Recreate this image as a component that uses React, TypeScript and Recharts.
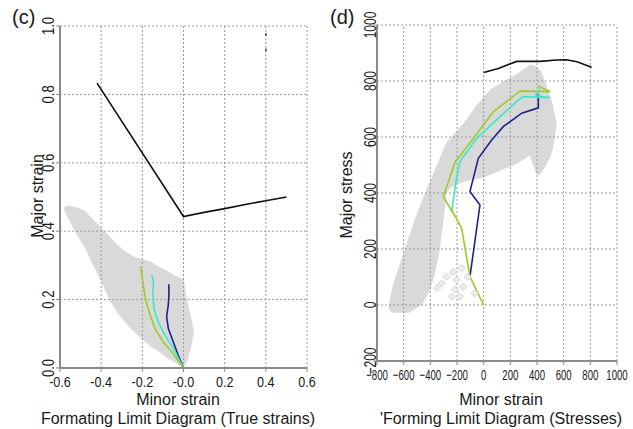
import {
  ComposedChart,
  Area,
  Line,
  Scatter,
  XAxis,
  YAxis,
  ReferenceLine,
} from "recharts";

// panel (c): true strains
const strainXTicks = [-0.6, -0.4, -0.2, 0, 0.2, 0.4, 0.6];
const strainYTicks = [0, 0.2, 0.4, 0.6, 0.8, 1.0];
const strainCloudX = [-0.58, -0.56, -0.52, -0.48, -0.44, -0.4, -0.36, -0.32, -0.28, -0.24, -0.2, -0.16, -0.12, -0.08, -0.04, 0, 0.02, 0.04, 0.05];
const strainCloudLow = [0.46, 0.437, 0.392, 0.352, 0.302, 0.254, 0.199, 0.161, 0.131, 0.105, 0.083, 0.063, 0.048, 0.03, 0.015, 0, 0.022, 0.07, 0.1];
const strainCloudHigh = [0.47, 0.475, 0.47, 0.46, 0.435, 0.41, 0.385, 0.36, 0.34, 0.325, 0.318, 0.312, 0.296, 0.284, 0.27, 0.26, 0.19, 0.14, 0.11];
const strainLimit: [number, number][] = [[-0.42, 0.833], [0, 0.443], [0.1, 0.455], [0.2, 0.466], [0.3, 0.478], [0.4, 0.489], [0.5, 0.5]];
const strainMarks: [number, number][] = [[0.4, 0.975], [0.4, 0.93]];
const strainGreen: [number, number][] = [[-0.208, 0.296], [-0.2, 0.262], [-0.188, 0.213], [-0.168, 0.165], [-0.139, 0.116], [-0.099, 0.077], [-0.058, 0.048], [0, 0]];
const strainCyan: [number, number][] = [[-0.154, 0.272], [-0.146, 0.252], [-0.149, 0.223], [-0.144, 0.175], [-0.123, 0.135], [-0.09, 0.096], [-0.05, 0.058], [0, 0]];
const strainNavy: [number, number][] = [[-0.071, 0.245], [-0.071, 0.213], [-0.074, 0.184], [-0.082, 0.15], [-0.074, 0.116], [-0.05, 0.077], [-0.026, 0.038], [0, 0]];

// panel (d): stresses
const stressXTicks = [-800, -600, -400, -200, 0, 200, 400, 600, 800, 1000];
const stressYTicks = [-200, 0, 200, 400, 600, 800, 1000];
const stressCloudX = [-715, -690, -650, -600, -560, -500, -465, -440, -400, -365, -330, -300, -278, -250, -200, -150, -100, -50, 0, 50, 100, 150, 200, 250, 300, 347, 375, 400, 430, 470, 500, 520, 547];
const stressCloudLow = [-10, -28, -28, -28, -28, -10, 0, 19, 54, 113, 195, 306, 400, 418, 430, 440, 445, 450, 455, 465, 475, 485, 495, 505, 520, 536, 490, 464, 470, 500, 530, 560, 640];
const stressCloudHigh = [-10, 54, 118, 186, 246, 326, 369, 400, 445, 484, 523, 556, 580, 595, 622, 650, 683, 715, 743, 770, 785, 800, 813, 825, 843, 859, 855, 850, 835, 784, 745, 712, 650];
const stressOutliers: [number, number][] = [[-228, 119], [-165, 131], [-203, 89], [-278, 101], [-315, 77], [-215, 54], [-153, 65], [-178, 30], [-240, 30], [-67, 42], [-120, 100], [-350, 60]];
const stressLimit: [number, number][] = [[0, 830], [110, 845], [248, 870], [422, 870], [548, 875], [620, 876], [700, 869], [810, 849]];
const stressGreen: [number, number][] = [[0, 0], [-103, 101], [-165, 274], [-215, 318], [-303, 387], [-215, 510], [-78, 595], [72, 690], [272, 764], [500, 762], [405, 782]];
const stressCyan: [number, number][] = [[-240, 333], [-205, 450], [-178, 512], [-53, 595], [122, 672], [247, 726], [297, 744], [497, 740], [397, 748], [422, 773]];
const stressNavy: [number, number][] = [[-103, 101], [-28, 357], [-103, 405], [-40, 524], [60, 589], [147, 637], [285, 685], [410, 704], [410, 750], [390, 752]];

const FONT = "'Liberation Sans', Arial, sans-serif";
const INK = "#1a1a1a";
const AXIS = "#8a8a8a";
const GRID = "#9a9a9a";
const CLOUD = "#d9d9d9";
const GREEN = "#9acd2a";
const CYAN = "#3ce8c4";
const NAVY = "#1e2290";

const pts = (arr: [number, number][]) => arr.map(([x, y]) => ({ x, y }));
const band = (xs: number[], lo: number[], hi: number[]) =>
  xs.map((x, i) => ({ x, band: [lo[i], hi[i]] }));

// tick labels are horizontally squeezed in the original figure
const XTick = ({ x, y, payload, sx, fmt }: any) => (
  <g transform={`translate(${x},${y + 13})`}>
    <text transform={`scale(${sx},1)`} textAnchor="middle" fontSize={15} fontFamily={FONT} fill={INK}>
      {fmt(payload.value)}
    </text>
  </g>
);

const YTick = ({ x, y, payload, sx, dx, fmt }: any) => (
  <g transform={`translate(${x + dx},${y}) rotate(-90)`}>
    <text transform={`scale(${sx},1)`} textAnchor="middle" fontSize={16} fontFamily={FONT} fill={INK}>
      {fmt(payload.value)}
    </text>
  </g>
);

const Diamond = ({ cx, cy }: any) => (
  <polygon
    points={`${cx},${cy - 3.5} ${cx + 3.5},${cy} ${cx},${cy + 3.5} ${cx - 3.5},${cy}`}
    fill="#ececec"
    stroke="#d2d2d2"
  />
);

const Tick = ({ cx, cy }: any) => <rect x={cx - 0.5} y={cy - 1.5} width={1.2} height={3} fill="#222" />;

const fmtStrainX = (v: number) => (v === 0 ? "-0.0" : v.toFixed(1));
const fmtStrainY = (v: number) => v.toFixed(1);
const fmtStress = (v: number) => (v < 0 ? `\u2212${-v}` : String(v));

const gridLines = (xs: number[], ys: number[]) => [
  ...xs.map((v) => (
    <ReferenceLine key={`gx${v}`} x={v} stroke={GRID} strokeDasharray="2 2" />
  )),
  ...ys.map((v) => (
    <ReferenceLine key={`gy${v}`} y={v} stroke={GRID} strokeDasharray="2 2" />
  )),
];

function StrainChart() {
  return (
    <ComposedChart
      width={320}
      height={429}
      data={band(strainCloudX, strainCloudLow, strainCloudHigh)}
      margin={{ top: 26, right: 13, bottom: 31, left: 30 }}
    >
      <XAxis
        type="number"
        dataKey="x"
        domain={[-0.6, 0.6]}
        ticks={strainXTicks}
        interval={0}
        allowDataOverflow
        height={30}
        tickSize={4}
        axisLine={{ stroke: AXIS, strokeWidth: 2 }}
        tickLine={{ stroke: AXIS }}
        tick={<XTick sx={0.84} fmt={fmtStrainX} />}
      />
      <YAxis
        type="number"
        domain={[0, 1]}
        ticks={strainYTicks}
        interval={0}
        allowDataOverflow
        width={30}
        tickSize={4}
        axisLine={{ stroke: AXIS, strokeWidth: 2 }}
        tickLine={{ stroke: AXIS }}
        tick={<YTick sx={0.82} dx={0} fmt={fmtStrainY} />}
      />
      {gridLines(strainXTicks, strainYTicks)}
      <Area type="linear" dataKey="band" stroke="none" fill={CLOUD} fillOpacity={1} isAnimationActive={false} />
      <Line data={pts(strainLimit)} dataKey="y" stroke="#111" strokeWidth={1.6} dot={false} activeDot={false} isAnimationActive={false} />
      <Scatter data={pts(strainMarks)} dataKey="y" shape={<Tick />} isAnimationActive={false} />
      <Line data={pts(strainNavy)} dataKey="y" stroke={NAVY} strokeWidth={1.6} dot={false} activeDot={false} isAnimationActive={false} />
      <Line data={pts(strainCyan)} dataKey="y" stroke={CYAN} strokeWidth={1.6} dot={false} activeDot={false} isAnimationActive={false} />
      <Line data={pts(strainGreen)} dataKey="y" stroke={GREEN} strokeWidth={1.6} dot={false} activeDot={false} isAnimationActive={false} />
    </ComposedChart>
  );
}

function StressChart() {
  return (
    <ComposedChart
      width={313}
      height={429}
      data={band(stressCloudX, stressCloudLow, stressCloudHigh)}
      margin={{ top: 25, right: 16, bottom: 38, left: 27 }}
    >
      <XAxis
        type="number"
        dataKey="x"
        domain={[-800, 1000]}
        ticks={stressXTicks}
        interval={0}
        allowDataOverflow
        height={30}
        tickSize={4}
        axisLine={{ stroke: AXIS, strokeWidth: 2 }}
        tickLine={{ stroke: AXIS }}
        tick={<XTick sx={0.64} fmt={fmtStress} />}
      />
      <YAxis
        type="number"
        domain={[-200, 1000]}
        ticks={stressYTicks}
        interval={0}
        allowDataOverflow
        width={30}
        tickSize={4}
        axisLine={{ stroke: AXIS, strokeWidth: 2 }}
        tickLine={{ stroke: AXIS }}
        tick={<YTick sx={0.75} dx={4.5} fmt={fmtStress} />}
      />
      {gridLines(stressXTicks, stressYTicks)}
      <Area type="linear" dataKey="band" stroke="none" fill={CLOUD} fillOpacity={1} isAnimationActive={false} />
      <Scatter data={pts(stressOutliers)} dataKey="y" shape={<Diamond />} isAnimationActive={false} />
      <Line data={pts(stressLimit)} dataKey="y" stroke="#111" strokeWidth={1.6} dot={false} activeDot={false} isAnimationActive={false} />
      <Line data={pts(stressNavy)} dataKey="y" stroke={NAVY} strokeWidth={1.6} dot={false} activeDot={false} isAnimationActive={false} />
      <Line data={pts(stressCyan)} dataKey="y" stroke={CYAN} strokeWidth={1.6} dot={false} activeDot={false} isAnimationActive={false} />
      <Line data={pts(stressGreen)} dataKey="y" stroke={GREEN} strokeWidth={1.6} dot={false} activeDot={false} isAnimationActive={false} />
    </ComposedChart>
  );
}

export default function App() {
  return (
    <div style={{ position: "absolute", left: 0, top: 0, width: 633, height: 429, background: "#fff", overflow: "hidden" }}>
      <div style={{ position: "absolute", left: 0, top: 0 }}>
        <StrainChart />
      </div>
      <div style={{ position: "absolute", left: 320, top: 0 }}>
        <StressChart />
      </div>
      <svg width={633} height={429} style={{ position: "absolute", left: 0, top: 0, pointerEvents: "none" }} fontFamily={FONT} fill={INK}>
        <text x={12} y={24} fontSize={20}>(c)</text>
        <text x={330} y={24} fontSize={20}>(d)</text>
        <text transform="translate(43,196) rotate(-90)" textAnchor="middle" fontSize={16}>Major strain</text>
        <text transform="translate(352,195) rotate(-90)" textAnchor="middle" fontSize={16}>Major stress</text>
        <text x={178} y={405} textAnchor="middle" fontSize={16}>Minor strain</text>
        <text x={178} y={424} textAnchor="middle" fontSize={16}>Formating Limit Diagram (True strains)</text>
        <text x={501} y={405} textAnchor="middle" fontSize={16}>Minor strain</text>
        <text x={501} y={424} textAnchor="middle" fontSize={16}>'Forming Limit Diagram (Stresses)</text>
      </svg>
    </div>
  );
}
